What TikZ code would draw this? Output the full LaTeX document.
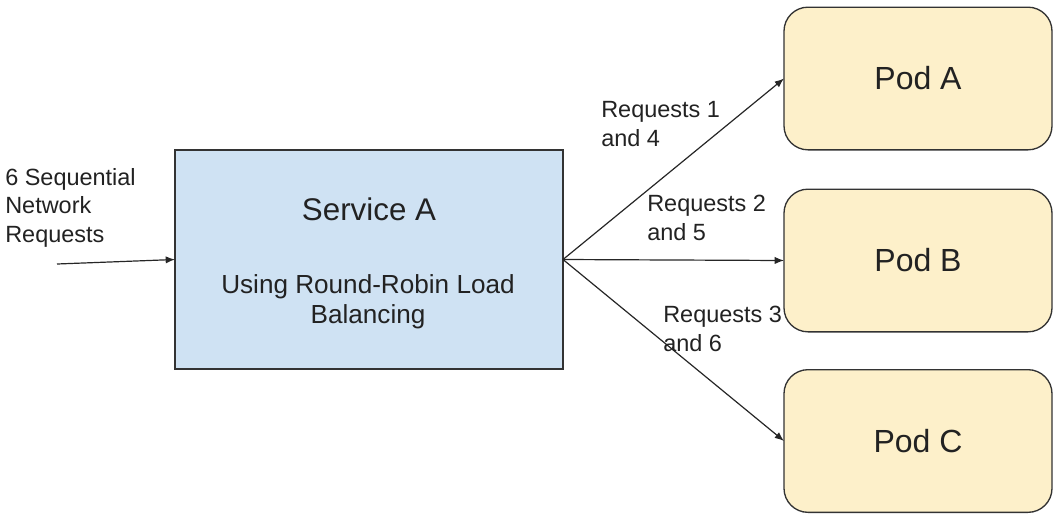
\documentclass[tikz,border=0pt]{standalone}
\usepackage{fontspec}
\setmainfont{Liberation Sans}
\usetikzlibrary{arrows.meta}
\definecolor{svcfill}{HTML}{CFE2F3}
\definecolor{podfill}{HTML}{FDF0CA}
\definecolor{edge}{HTML}{333333}
\definecolor{ink}{HTML}{222222}
\tikzset{
  svcbox/.style={draw=edge, line width=1.1pt, fill=svcfill, rectangle,
    minimum width=291pt, minimum height=164pt, inner sep=0pt, outer sep=0pt},
  podbox/.style={draw=edge, line width=1.0pt, fill=podfill, rectangle,
    rounded corners=18pt, minimum width=201pt, minimum height=107pt,
    inner sep=0pt, outer sep=0pt, text=ink, font=\fontsize{24}{28}\selectfont},
  reqlabel/.style={anchor=north west, inner sep=0pt, align=left, text=ink,
    font=\fontsize{17.6}{21.5}\selectfont},
  flow/.style={draw=black!85, line width=0.9pt, -{Latex[length=7pt,width=5.5pt]}}
}
\begin{document}
\begin{tikzpicture}[x=0.75pt,y=-0.75pt]
  \useasboundingbox (0,0) rectangle (1053,515);

  % load balancer service
  \node[svcbox] (svc) at (369,259.5) {};
  \node[anchor=base, inner sep=0pt, text=ink, font=\fontsize{23.5}{28}\selectfont]
    (svctitle) at (369,220) {Service A};
  \node[anchor=base, inner sep=0pt, text=ink, align=center,
    font=\fontsize{19.6}{22.5}\selectfont]
    (svcnote) at (368,323) {Using Round-Robin Load\\Balancing};

  % backend pods
  \node[podbox] (podA) at (918,78.5) {Pod A};
  \node[podbox] (podB) at (918,260.5) {Pod B};
  \node[podbox] (podC) at (918,441) {Pod C};

  % incoming traffic
  \coordinate (src) at (57,264);
  \node[reqlabel] (inlabel) at (5,168) {6 Sequential\\Network\\Requests};
  \draw[flow] (src) -- (svc.west);

  % round-robin fan-out
  \draw[flow] (svc.east) -- (podA.west);
  \draw[flow] (svc.east) -- (podB.west);
  \draw[flow] (svc.east) -- (podC.west);

  \node[reqlabel] (lblA) at (601,101) {Requests 1\\and 4};
  \node[reqlabel] (lblB) at (647,195) {Requests 2\\and 5};
  \node[reqlabel] (lblC) at (663,306) {Requests 3\\and 6};
\end{tikzpicture}
\end{document}
